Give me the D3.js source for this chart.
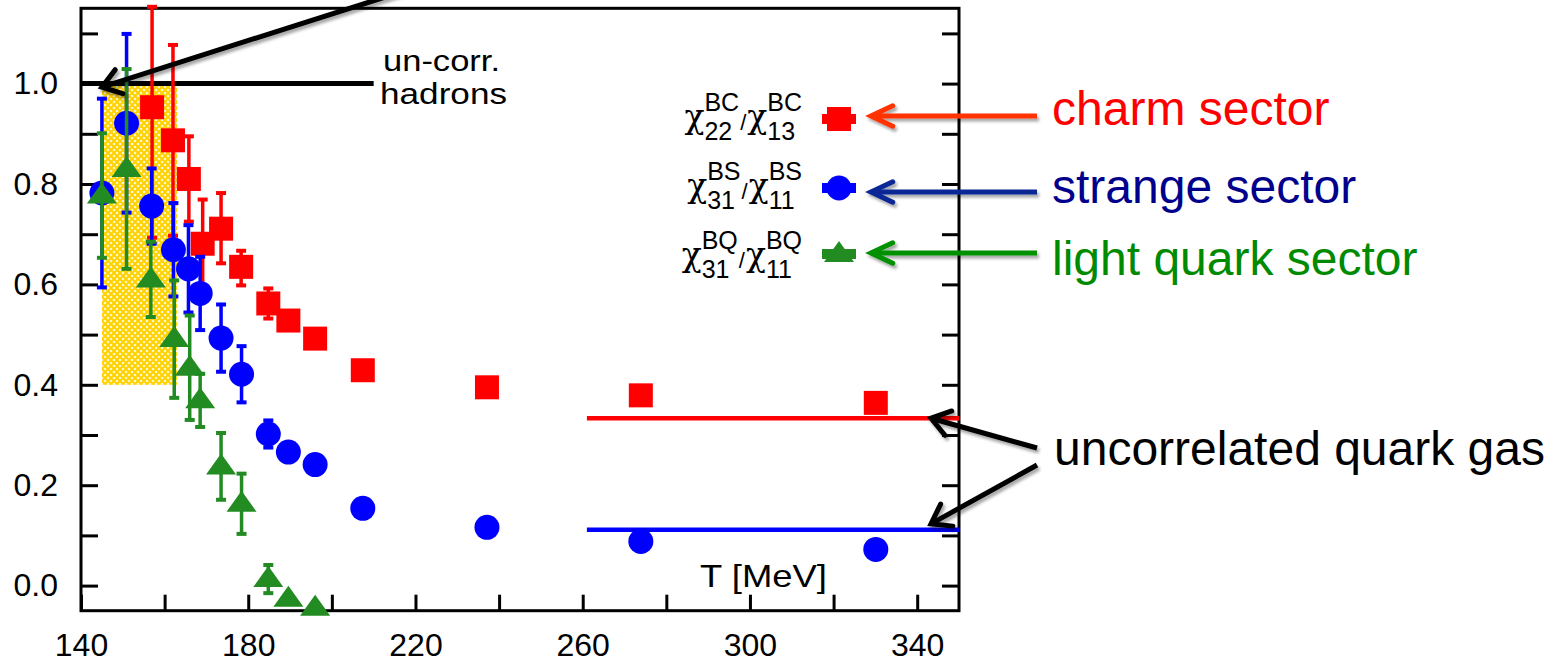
<!DOCTYPE html>
<html>
<head>
<meta charset="utf-8">
<script src="https://cdn.jsdelivr.net/npm/d3@7"></script>
<style>
  body { margin: 0; background: #fff; }
  text { font-family: "Liberation Sans", Arial, Helvetica, sans-serif; }
</style>
</head>
<body>
<svg id="chart" width="1545" height="662"></svg>
<script>
// ---- data: ratios of baryon-number correlations vs temperature ----
// charm sector  chi22^BC / chi13^BC
const charmT      = [157, 162, 165.8, 169.1, 173.5, 178.3, 184.8, 189.6, 196, 207.4, 237.1, 273.9, 330.1];
const charmVal    = [0.953, 0.887, 0.81, 0.681, 0.711, 0.635, 0.562, 0.528, 0.492, 0.429, 0.395, 0.379, 0.364];
const charmErrUp  = [0.2, 0.19, 0.085, 0.088, 0.071, 0.032, 0.03, 0, 0, 0, 0, 0, 0];
const charmErrLo  = [0.26, 0.19, 0.085, 0.088, 0.069, 0.037, 0.03, 0, 0, 0, 0, 0, 0];

// strange sector  chi31^BS / chi11^BS
const strangeT    = [145, 150.9, 156.9, 162.1, 165.7, 168.5, 173.5, 178.4, 184.8, 189.6, 196, 207.4, 237.1, 273.9, 330.1];
const strangeVal  = [0.782, 0.921, 0.756, 0.669, 0.631, 0.582, 0.493, 0.421, 0.302, 0.266, 0.241, 0.154, 0.116, 0.088, 0.072];
const strangeErr  = [0.188, 0.178, 0.075, 0.093, 0.087, 0.073, 0.067, 0.056, 0.027, 0, 0, 0, 0, 0, 0];

// light quark sector  chi31^BQ / chi11^BQ
const lightT      = [145, 150.9, 156.7, 162.3, 166, 168.5, 173.5, 178.4, 184.8, 189.6, 196];
const lightVal    = [0.777, 0.83, 0.61, 0.491, 0.434, 0.369, 0.2375, 0.163, 0.013, -0.026, -0.044];
const lightErr    = [0.124, 0.199, 0.075, 0.117, 0.104, 0.053, 0.0665, 0.06, 0.028, 0, 0];

// reference levels
const hadronLevel   = 1.0;            // uncorrelated hadrons
const freeGasLevels = [1 / 3, 1 / 9]; // uncorrelated quark gas: charm, strange
const freeGasTRange = [261, 350];
const bandT = [145, 163];             // transition band
const bandV = [0.4, 1.0];

// axes
const xDomain = [140, 350];
const yDomain = [-0.05, 1.15];
const xTickValues = [140, 160, 180, 200, 220, 240, 260, 280, 300, 320, 340];
const xTickLabels = [140, 180, 220, 260, 300, 340];
const yTickValues = [0, 0.1, 0.2, 0.3, 0.4, 0.5, 0.6, 0.7, 0.8, 0.9, 1.0, 1.1];
const yTickLabels = [0, 0.2, 0.4, 0.6, 0.8, 1.0];

// colours
const RED = "#ff0000", BLUE = "#0000ff", GREEN = "#228b22";

// ---- setup ----
const svg = d3.select("#chart");
const frame = { left: 81, right: 959, top: 8.3, bottom: 610.7 };
const x = d3.scaleLinear().domain(xDomain).range([frame.left, frame.right]);
const y = d3.scaleLinear().domain(yDomain).range([frame.bottom, frame.top]);

const defs = svg.append("defs");
const pat = defs.append("pattern").attr("id", "dots")
  .attr("patternUnits", "userSpaceOnUse").attr("width", 6).attr("height", 6);
pat.append("rect").attr("width", 6).attr("height", 6).attr("fill", "#ffd200");
[[0, 0], [6, 0], [0, 6], [6, 6], [3, 3]].forEach(([cx, cy]) =>
  pat.append("circle").attr("cx", cx).attr("cy", cy).attr("r", 1.3).attr("fill", "#fff6c8"));

const shadow = defs.append("filter").attr("id", "shadow")
  .attr("x", "-20%").attr("y", "-50%").attr("width", "140%").attr("height", "200%");
shadow.append("feDropShadow").attr("dx", 2).attr("dy", 3).attr("stdDeviation", 1.8)
  .attr("flood-color", "#000").attr("flood-opacity", 0.35);

// transition band
svg.append("rect")
  .attr("x", x(bandT[0])).attr("y", y(bandV[1]))
  .attr("width", x(bandT[1]) - x(bandT[0])).attr("height", y(bandV[0]) - y(bandV[1]))
  .attr("fill", "url(#dots)");

// ---- axes ----
const fmt = d3.format(".1f");
const isLabel = (list, d) => list.some(l => Math.abs(l - d) < 1e-9);

function styleAxis(g) {
  g.select(".domain").remove();
  g.selectAll(".tick line").attr("stroke", "#000").attr("stroke-width", 3);
  g.selectAll(".tick text").attr("fill", "#000")
    .style("font-family", '"Liberation Sans", Arial, sans-serif').style("font-size", "32px");
}

svg.append("g").attr("transform", `translate(0,${frame.bottom})`)
  .call(d3.axisBottom(x).tickValues(xTickValues).tickSize(-16).tickPadding(23)
    .tickFormat(d => isLabel(xTickLabels, d) ? d : ""))
  .call(styleAxis);

svg.append("g").attr("transform", `translate(${frame.left},0)`)
  .call(d3.axisLeft(y).tickValues(yTickValues).tickSize(-17).tickPadding(23)
    .tickFormat(d => isLabel(yTickLabels, d) ? fmt(d) : ""))
  .call(styleAxis);

svg.append("g").attr("transform", `translate(${frame.right},0)`)
  .call(d3.axisRight(y).tickValues(yTickValues).tickSize(-17).tickFormat(""))
  .call(styleAxis);

svg.append("rect")
  .attr("x", frame.left).attr("y", frame.top)
  .attr("width", frame.right - frame.left).attr("height", frame.bottom - frame.top)
  .attr("fill", "none").attr("stroke", "#000").attr("stroke-width", 3);

svg.append("text").attr("x", 700).attr("y", 587)
  .attr("textLength", 127).attr("lengthAdjust", "spacingAndGlyphs")
  .style("font-size", "32px").text("T [MeV]");

// ---- reference lines ----
[RED, BLUE].forEach((c, i) => {
  svg.append("line")
    .attr("x1", x(freeGasTRange[0])).attr("x2", x(freeGasTRange[1]))
    .attr("y1", y(freeGasLevels[i])).attr("y2", y(freeGasLevels[i]))
    .attr("stroke", c).attr("stroke-width", 4.5);
});

svg.append("line")
  .attr("x1", x(140)).attr("x2", x(210))
  .attr("y1", y(hadronLevel)).attr("y2", y(hadronLevel))
  .attr("stroke", "#000").attr("stroke-width", 5);

svg.append("text").attr("x", 383).attr("y", 71)
  .attr("textLength", 117).attr("lengthAdjust", "spacingAndGlyphs")
  .style("font-size", "30px").text("un-corr.");
svg.append("text").attr("x", 380).attr("y", 104)
  .attr("textLength", 127).attr("lengthAdjust", "spacingAndGlyphs")
  .style("font-size", "30px").text("hadrons");

// ---- markers ----
const markers = {
  square: (g, c) => g.append("rect").attr("x", -12).attr("y", -12).attr("width", 24).attr("height", 24).attr("fill", c),
  circle: (g, c) => g.append("circle").attr("r", 12.5).attr("fill", c),
  triangle: (g, c) => g.append("path").attr("d", "M0,-13L15,8L-15,8Z").attr("fill", c)
};

function drawSeries(T, V, errUp, errLo, color, shape) {
  const data = T.map((t, i) => ({ t, v: V[i], up: errUp[i], lo: errLo[i] }));
  const g = svg.append("g");
  const eb = g.selectAll("g.eb").data(data.filter(d => d.up > 0 || d.lo > 0)).join("g")
    .attr("stroke", color);
  eb.append("line")
    .attr("x1", d => x(d.t)).attr("x2", d => x(d.t))
    .attr("y1", d => y(d.v + d.up)).attr("y2", d => y(d.v - d.lo))
    .attr("stroke-width", 3.5);
  eb.append("line")
    .attr("x1", d => x(d.t) - 5).attr("x2", d => x(d.t) + 5)
    .attr("y1", d => y(d.v + d.up)).attr("y2", d => y(d.v + d.up))
    .attr("stroke-width", 4);
  eb.append("line")
    .attr("x1", d => x(d.t) - 5).attr("x2", d => x(d.t) + 5)
    .attr("y1", d => y(d.v - d.lo)).attr("y2", d => y(d.v - d.lo))
    .attr("stroke-width", 4);
  g.selectAll("g.pt").data(data).join("g")
    .attr("transform", d => `translate(${x(d.t)},${y(d.v)})`)
    .each(function () { markers[shape](d3.select(this), color); });
}

drawSeries(charmT, charmVal, charmErrUp, charmErrLo, RED, "square");
drawSeries(strangeT, strangeVal, strangeErr, strangeErr, BLUE, "circle");
drawSeries(lightT, lightVal, lightErr, lightErr, GREEN, "triangle");

// ---- key ----
const keyRows = [
  { sup: ["BC", "BC"], sub: ["22", "13"], color: RED, shape: "square", base: 128, my: 119 },
  { sup: ["BS", "BS"], sub: ["31", "11"], color: BLUE, shape: "circle", base: 197, my: 188 },
  { sup: ["BQ", "BQ"], sub: ["31", "11"], color: GREEN, shape: "triangle", base: 266, my: 254 }
];
const keyRight = 803, keyMarkerX = 839;

keyRows.forEach(r => {
  const g = svg.append("g");
  let cx = 0;
  for (let k = 0; k < 2; k++) {
    const chi = g.append("text").attr("x", cx).attr("y", 0)
      .style("font-family", '"DejaVu Serif", "Liberation Serif", serif')
      .style("font-size", "33px").text("\u03c7");
    const sx = cx + chi.node().getComputedTextLength();
    const sp = g.append("text").attr("x", sx).attr("y", -17).style("font-size", "25px").text(r.sup[k]);
    const sb = g.append("text").attr("x", sx).attr("y", 12).style("font-size", "25px").text(r.sub[k]);
    cx = sx + Math.max(sp.node().getComputedTextLength(), sb.node().getComputedTextLength()) + 1;
    if (k === 0) {
      const sl = g.append("text").attr("x", cx).attr("y", 2).style("font-size", "22px").text("/");
      cx += sl.node().getComputedTextLength() + 1;
    }
  }
  g.attr("transform", `translate(${keyRight - cx},${r.base})`);

  const m = svg.append("g").attr("transform", `translate(${keyMarkerX},${r.my})`);
  m.append("rect").attr("x", -17).attr("y", -5).attr("width", 34).attr("height", 10).attr("fill", r.color);
  markers[r.shape](m, r.color);
});

// ---- annotations ----
function arrow(x1, y1, x2, y2, color, width, len, angDeg) {
  const g = svg.append("g").attr("filter", "url(#shadow)")
    .attr("stroke", color).attr("stroke-width", width).attr("fill", "none");
  g.append("line").attr("x1", x1).attr("y1", y1).attr("x2", x2).attr("y2", y2);
  const a = Math.atan2(y1 - y2, x1 - x2), h = angDeg * Math.PI / 180;
  const p1 = [x2 + len * Math.cos(a + h), y2 + len * Math.sin(a + h)];
  const p2 = [x2 + len * Math.cos(a - h), y2 + len * Math.sin(a - h)];
  g.append("path").attr("d", `M${p1}L${x2},${y2}L${p2}`)
    .attr("stroke-linejoin", "miter").attr("stroke-linecap", "round");
}

// hadron-gas pointer (coming from above the plot)
arrow(x(216.5), -8, x(145), y(0.993), "#000", 5, 22, 35);

// sector labels with coloured pointers
const sectors = [
  { text: "charm sector", color: "#ff0000", arrow: "#ff3300", ay: 116, base: 125 },
  { text: "strange sector", color: "#00008c", arrow: "#0a2896", ay: 192, base: 203 },
  { text: "light quark sector", color: "#008a00", arrow: "#009000", ay: 253, base: 275 }
];
sectors.forEach(s => {
  arrow(1037, s.ay, 871, s.ay, s.arrow, 5, 24, 25);
  svg.append("text").attr("x", 1052).attr("y", s.base)
    .attr("fill", s.color).style("font-size", "48px").text(s.text);
});

// free quark gas pointers
arrow(1037, 448, x(343.3), y(freeGasLevels[0]), "#000", 5, 22, 35);
arrow(1037, 465, x(343.3), y(freeGasLevels[1]) - 6, "#000", 5, 22, 35);
svg.append("text").attr("x", 1054).attr("y", 465)
  .style("font-size", "48px").text("uncorrelated quark gas");
</script>
</body>
</html>
